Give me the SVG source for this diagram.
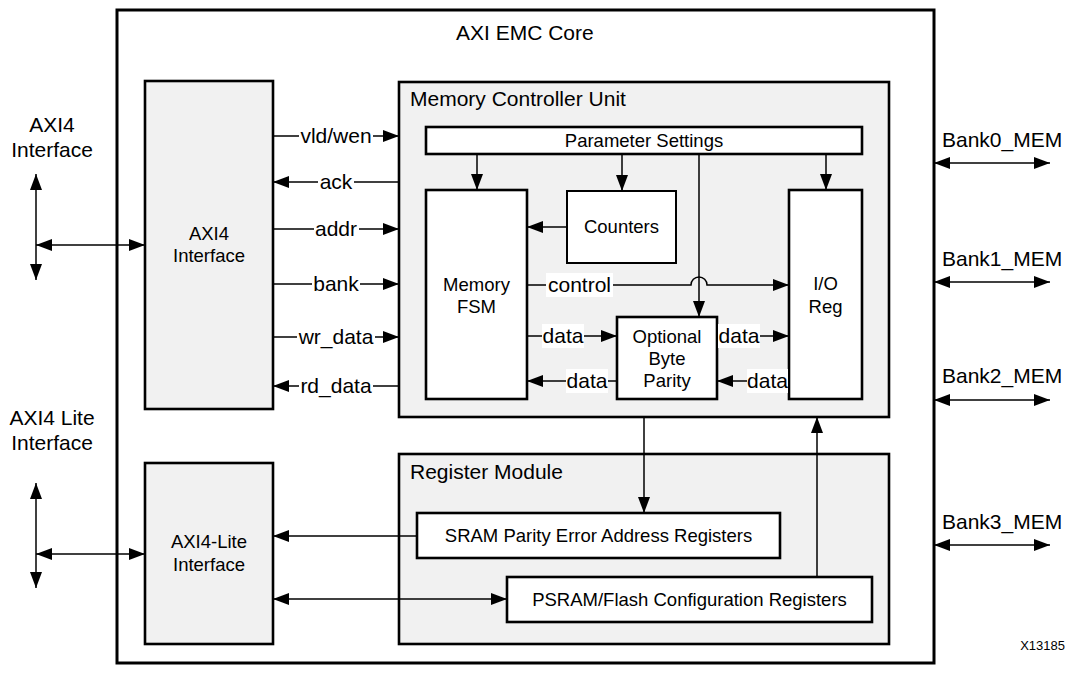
<svg xmlns="http://www.w3.org/2000/svg" width="1069" height="673" viewBox="0 0 1069 673">
<style>
.t{font-family:"Liberation Sans",Arial,Helvetica,sans-serif;fill:#000}
.big{font-size:21px}
.med{font-size:18.5px}
.sm{font-size:13px}
.box{stroke:#000;stroke-width:2.6}
.gray{fill:#f1f1f1}
.white{fill:#fff}
.ln{stroke:#000;stroke-width:1.5;fill:none}
.bg{fill:#fff;stroke:none}
</style>
<defs>
<marker id="ah" viewBox="0 0 16 12" refX="16" refY="6" markerWidth="16" markerHeight="12" markerUnits="userSpaceOnUse" orient="auto-start-reverse">
<path d="M0,0 L16,6 L0,12 Z" fill="#000"/>
</marker>
</defs>
<rect width="1069" height="673" fill="#fff"/>

<g id="core">
<rect x="117" y="10" width="817" height="653" fill="#fff" stroke="#000" stroke-width="3"/>
<text class="t big" x="456" y="40">AXI EMC Core</text>
</g>

<g id="axi4-if">
<rect class="box gray" x="145" y="81" width="128" height="328"/>
<text class="t med" x="209" y="240" text-anchor="middle">AXI4</text>
<text class="t med" x="209" y="262" text-anchor="middle">Interface</text>
</g>

<g id="axi4lite-if">
<rect class="box gray" x="145" y="463" width="128" height="181"/>
<text class="t med" x="209" y="548" text-anchor="middle">AXI4-Lite</text>
<text class="t med" x="209" y="571" text-anchor="middle">Interface</text>
</g>

<g id="mcu">
<rect class="box gray" x="399" y="82" width="490" height="335"/>
<text class="t big" x="410" y="106">Memory Controller Unit</text>
</g>

<g id="params">
<rect class="box white" x="426" y="127" width="436" height="27"/>
<text class="t med" x="644" y="147" text-anchor="middle">Parameter Settings</text>
</g>

<g id="fsm">
<rect class="box white" x="426" y="190" width="101" height="209"/>
<text class="t med" x="476.5" y="291" text-anchor="middle">Memory</text>
<text class="t med" x="476.5" y="313" text-anchor="middle">FSM</text>
</g>

<g id="counters">
<rect x="567" y="191" width="109" height="72" fill="#fff" stroke="#000" stroke-width="2"/>
<text class="t med" x="621.5" y="233" text-anchor="middle">Counters</text>
</g>

<g id="ioreg">
<rect class="box white" x="789" y="190" width="73" height="209"/>
<text class="t med" x="825.5" y="290" text-anchor="middle">I/O</text>
<text class="t med" x="825.5" y="313" text-anchor="middle">Reg</text>
</g>

<g id="parity">
<rect class="box white" x="617" y="317" width="100" height="82"/>
<text class="t med" x="667" y="343" text-anchor="middle">Optional</text>
<text class="t med" x="667" y="365" text-anchor="middle">Byte</text>
<text class="t med" x="667" y="387" text-anchor="middle">Parity</text>
</g>

<g id="regmod">
<rect class="box gray" x="399" y="454" width="490" height="190"/>
<text class="t big" x="410" y="479">Register Module</text>
</g>

<g id="sram-regs">
<rect class="box white" x="417" y="513" width="363" height="45"/>
<text class="t med" x="598.5" y="542" text-anchor="middle">SRAM Parity Error Address Registers</text>
</g>

<g id="psram-regs">
<rect class="box white" x="507" y="577" width="365" height="45"/>
<text class="t med" x="689.5" y="606" text-anchor="middle">PSRAM/Flash Configuration Registers</text>
</g>

<g id="ext-labels">
<text class="t big" x="52" y="132" text-anchor="middle">AXI4</text>
<text class="t big" x="52" y="157" text-anchor="middle">Interface</text>
<text class="t big" x="52" y="425" text-anchor="middle">AXI4 Lite</text>
<text class="t big" x="52" y="450" text-anchor="middle">Interface</text>
<text class="t big" x="942" y="147">Bank0_MEM</text>
<text class="t big" x="942" y="266">Bank1_MEM</text>
<text class="t big" x="942" y="383">Bank2_MEM</text>
<text class="t big" x="942" y="529">Bank3_MEM</text>
<text class="t sm" x="1065" y="650" text-anchor="end">X13185</text>
</g>

<g id="connectors">
<!-- external AXI4 -->
<line class="ln" x1="36" y1="174" x2="36" y2="280" marker-start="url(#ah)" marker-end="url(#ah)"/>
<line class="ln" x1="36" y1="245" x2="145" y2="245" marker-start="url(#ah)" marker-end="url(#ah)"/>
<line class="ln" x1="36" y1="483" x2="36" y2="588" marker-start="url(#ah)" marker-end="url(#ah)"/>
<line class="ln" x1="36" y1="554" x2="145" y2="554" marker-start="url(#ah)" marker-end="url(#ah)"/>
<!-- banks -->
<line class="ln" x1="934" y1="163" x2="1050" y2="163" marker-start="url(#ah)" marker-end="url(#ah)"/>
<line class="ln" x1="934" y1="282" x2="1050" y2="282" marker-start="url(#ah)" marker-end="url(#ah)"/>
<line class="ln" x1="934" y1="400" x2="1050" y2="400" marker-start="url(#ah)" marker-end="url(#ah)"/>
<line class="ln" x1="934" y1="545" x2="1050" y2="545" marker-start="url(#ah)" marker-end="url(#ah)"/>
<!-- AXI4 IF to MCU -->
<line class="ln" x1="273" y1="136" x2="399" y2="136" marker-end="url(#ah)"/>
<line class="ln" x1="399" y1="182" x2="273" y2="182" marker-end="url(#ah)"/>
<line class="ln" x1="273" y1="229" x2="399" y2="229" marker-end="url(#ah)"/>
<line class="ln" x1="273" y1="284" x2="399" y2="284" marker-end="url(#ah)"/>
<line class="ln" x1="273" y1="337" x2="399" y2="337" marker-end="url(#ah)"/>
<line class="ln" x1="399" y1="386" x2="273" y2="386" marker-end="url(#ah)"/>
<rect class="bg" x="299" y="124" width="74" height="24"/>
<text class="t big" x="336" y="143" text-anchor="middle">vld/wen</text>
<rect class="bg" x="318" y="170" width="36" height="24"/>
<text class="t big" x="336" y="189" text-anchor="middle">ack</text>
<rect class="bg" x="314" y="217" width="45" height="24"/>
<text class="t big" x="336" y="236" text-anchor="middle">addr</text>
<rect class="bg" x="312" y="272" width="48" height="24"/>
<text class="t big" x="336" y="291" text-anchor="middle">bank</text>
<rect class="bg" x="297" y="325" width="78" height="24"/>
<text class="t big" x="336" y="344" text-anchor="middle">wr_data</text>
<rect class="bg" x="299" y="374" width="74" height="24"/>
<text class="t big" x="336" y="393" text-anchor="middle">rd_data</text>
<!-- parameter settings -->
<line class="ln" x1="477" y1="154" x2="477" y2="190" marker-end="url(#ah)"/>
<line class="ln" x1="622" y1="154" x2="622" y2="191" marker-end="url(#ah)"/>
<line class="ln" x1="826" y1="154" x2="826" y2="190" marker-end="url(#ah)"/>
<line class="ln" x1="699" y1="154" x2="699" y2="317" marker-end="url(#ah)"/>
<!-- counters to FSM -->
<line class="ln" x1="567" y1="227" x2="527" y2="227" marker-end="url(#ah)"/>
<!-- control with hop -->
<path class="ln" d="M527,285 H691 A8,8 0 0 1 707,285 H789" marker-end="url(#ah)"/>
<rect class="bg" x="546" y="273" width="67" height="24"/>
<text class="t big" x="579.5" y="292" text-anchor="middle">control</text>
<!-- data paths -->
<line class="ln" x1="527" y1="336" x2="617" y2="336" marker-end="url(#ah)"/>
<line class="ln" x1="717" y1="336" x2="789" y2="336" marker-end="url(#ah)"/>
<line class="ln" x1="789" y1="381" x2="717" y2="381" marker-end="url(#ah)"/>
<line class="ln" x1="617" y1="381" x2="527" y2="381" marker-end="url(#ah)"/>
<rect class="bg" x="542" y="324" width="42" height="24"/>
<text class="t big" x="563" y="343" text-anchor="middle">data</text>
<rect class="bg" x="718" y="324" width="42" height="24"/>
<text class="t big" x="739" y="343" text-anchor="middle">data</text>
<rect class="bg" x="747" y="369" width="41" height="24"/>
<text class="t big" x="767.5" y="388" text-anchor="middle">data</text>
<rect class="bg" x="566" y="369" width="42" height="24"/>
<text class="t big" x="587" y="388" text-anchor="middle">data</text>
<!-- MCU to register module -->
<line class="ln" x1="644" y1="417" x2="644" y2="513" marker-end="url(#ah)"/>
<line class="ln" x1="817" y1="577" x2="817" y2="417" marker-end="url(#ah)"/>
<!-- register module to AXI4-Lite -->
<line class="ln" x1="417" y1="536" x2="273" y2="536" marker-end="url(#ah)"/>
<line class="ln" x1="273" y1="599" x2="507" y2="599" marker-start="url(#ah)" marker-end="url(#ah)"/>
</g>
</svg>
